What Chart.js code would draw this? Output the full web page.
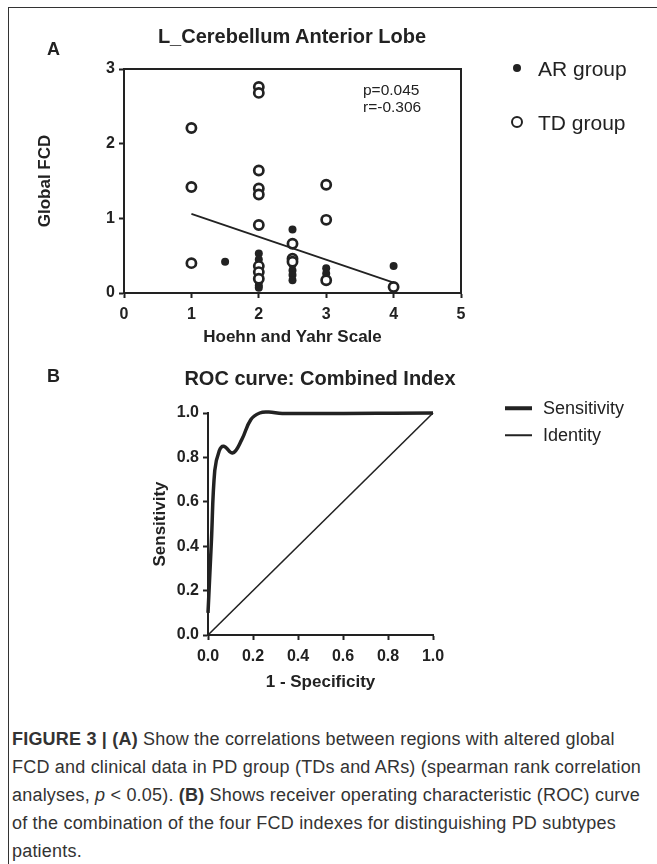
<!DOCTYPE html>
<html>
<head>
<meta charset="utf-8">
<script src="https://cdn.jsdelivr.net/npm/chart.js@4.4.1/dist/chart.umd.min.js"></script>
<style>
  body { margin: 0; background: #fff; font-family: "Liberation Sans", Arial, sans-serif; color: #222; }
  #page { position: relative; width: 657px; height: 864px; overflow: hidden; }
  #frame { position: absolute; left: 8px; top: 7px; width: 700px; height: 900px; border: 1.5px solid #333; box-sizing: border-box; }
  canvas { position: absolute; left: 0; }
  .txt { position: absolute; white-space: nowrap; line-height: 1; }
  .c { transform: translate(-50%, -50%); }
  .l { transform: translateY(-50%); }
  .bold { font-weight: bold; }
  .dot { position: absolute; border-radius: 50%; transform: translate(-50%, -50%); box-sizing: border-box; }
  .seg { position: absolute; background: #222; transform: translateY(-50%); }
  #caption { position: absolute; left: 12px; top: 725px; font-size: 18px; letter-spacing: 0.2px; line-height: 28px; color: #333; white-space: nowrap; }
</style>
</head>
<body>
<div id="page">
  <div id="frame"></div>
  <canvas id="chartA" width="657" height="360" style="top:0"></canvas>
  <canvas id="chartB" width="657" height="340" style="top:360px"></canvas>

  <div class="txt bold l" style="left:47px; top:49px; font-size:18px;">A</div>
  <div class="txt bold c" style="left:292px; top:36px; font-size:20px;">L_Cerebellum Anterior Lobe</div>
  <div class="txt" style="left:363px; top:82px; font-size:15.5px; line-height:16.5px;">p=0.045<br>r=-0.306</div>
  <div class="dot" style="left:517px; top:68px; width:8px; height:8px; background:#222;"></div>
  <div class="txt l" style="left:538px; top:68px; font-size:21px;">AR group</div>
  <div class="dot" style="left:517px; top:122px; width:12px; height:12px; border:2.7px solid #222; background:#fff;"></div>
  <div class="txt l" style="left:538px; top:122px; font-size:21px;">TD group</div>

  <div class="txt bold l" style="left:47px; top:376px; font-size:18px;">B</div>
  <div class="txt bold c" style="left:320px; top:378px; font-size:20px;">ROC curve: Combined Index</div>
  <div class="seg" style="left:505px; top:408px; width:27px; height:3.5px;"></div>
  <div class="txt l" style="left:543px; top:408px; font-size:18px;">Sensitivity</div>
  <div class="seg" style="left:505px; top:435px; width:27px; height:1.5px;"></div>
  <div class="txt l" style="left:543px; top:435px; font-size:18px;">Identity</div>

  <div id="caption"><b>FIGURE 3 | (A)</b> Show the correlations between regions with altered global<br>FCD and clinical data in PD group (TDs and ARs) (spearman rank correlation<br>analyses, <i>p</i> &lt; 0.05). <b>(B)</b> Shows receiver operating characteristic (ROC) curve<br>of the combination of the four FCD indexes for distinguishing PD subtypes<br>patients.</div>
</div>

<script>
// Panel A: Hoehn and Yahr scale vs global FCD (L_Cerebellum Anterior Lobe)
const arHY  = [1.5, 2, 2, 2, 2, 2, 2, 2, 2, 2.5, 2.5, 2.5, 2.5, 2.5, 3, 3, 4];
const arFCD = [0.42, 0.53, 0.45, 0.38, 0.30, 0.22, 0.15, 0.10, 0.07, 0.85, 0.38, 0.30, 0.24, 0.17, 0.33, 0.26, 0.36];
const tdHY  = [1, 1, 1, 2, 2, 2, 2, 2, 2, 2, 2, 2, 2.5, 2.5, 2.5, 3, 3, 3, 4];
const tdFCD = [2.21, 1.42, 0.40, 2.76, 2.68, 1.64, 1.40, 1.32, 0.91, 0.36, 0.28, 0.19, 0.66, 0.46, 0.42, 1.45, 0.98, 0.17, 0.08];
const fitHY  = [1, 4];
const fitFCD = [1.06, 0.14];

// Panel B: ROC curve of the combined index
const rocFPR = [0, 0.015, 0.03, 0.05, 0.07, 0.11, 0.15, 0.19, 0.23, 0.27, 0.33, 1.0];
const rocTPR = [0.10, 0.42, 0.74, 0.83, 0.85, 0.82, 0.88, 0.97, 1.0, 1.004, 0.998, 1.0];
const identityX = [0, 1];
const identityY = [0, 1];

const ink = '#222';
Chart.defaults.font.family = '"Liberation Sans", Arial, sans-serif';
Chart.defaults.color = ink;

const toPoints = (xs, ys) => xs.map((x, i) => ({x: x, y: ys[i]}));

// box round the plot area of panel A
const boxPlugin = {
    id: 'box',
    afterDatasetsDraw(chart, args, opts) {
        if (!opts.enabled) return;
        const a = chart.chartArea;
        const ctx = chart.ctx;
        ctx.save();
        ctx.strokeStyle = ink;
        ctx.lineWidth = 2;
        ctx.strokeRect(a.left, a.top, a.right - a.left, a.bottom - a.top);
        ctx.restore();
    }
};

function axis(min, max, step, titleText, pos, fit, fmt) {
    return {
        type: 'linear',
        position: pos,
        min: min,
        max: max,
        afterFit: fit,
        ticks: {
            stepSize: step,
            padding: pos == 'bottom' ? 7 : 4,
            font: {size: 16, weight: 'bold'},
            color: ink,
            callback: fmt
        },
        grid: {display: true, drawOnChartArea: false, drawTicks: true, tickLength: 5, tickWidth: 2, tickColor: ink},
        border: {display: true, color: ink, width: 2},
        title: {display: true, text: titleText, color: ink, font: {size: 17, weight: 'bold'}, padding: {top: 10, bottom: 0}}
    };
}

new Chart(document.getElementById('chartA').getContext('2d'), {
    type: 'scatter',
    data: {
        datasets: [
            {
                label: 'fit',
                data: toPoints(fitHY, fitFCD),
                showLine: true,
                borderColor: ink,
                borderWidth: 1.8,
                pointRadius: 0,
                clip: false
            },
            {
                label: 'TD group',
                data: toPoints(tdHY, tdFCD),
                pointRadius: 4.6,
                pointBorderWidth: 2.7,
                pointBorderColor: ink,
                pointBackgroundColor: '#fff',
                clip: false
            },
            {
                label: 'AR group',
                data: toPoints(arHY, arFCD),
                pointRadius: 4,
                pointBorderWidth: 0,
                pointBackgroundColor: ink,
                clip: false
            }
        ]
    },
    options: {
        responsive: false,
        animation: false,
        layout: {padding: {left: 25, right: 196, top: 69, bottom: 12}},
        plugins: {legend: {display: false}, tooltip: {enabled: false}, box: {enabled: true}},
        scales: {
            x: axis(0, 5, 1, 'Hoehn and Yahr Scale', 'bottom', s => { s.height = 55; }),
            y: axis(0, 3, 1, 'Global FCD', 'left', s => { s.width = 99; })
        }
    },
    plugins: [boxPlugin]
});

new Chart(document.getElementById('chartB').getContext('2d'), {
    type: 'scatter',
    data: {
        datasets: [
            {
                label: 'Sensitivity',
                data: toPoints(rocFPR, rocTPR),
                showLine: true,
                tension: 0.4,
                borderColor: ink,
                borderWidth: 3.5,
                pointRadius: 0,
                clip: false
            },
            {
                label: 'Identity',
                data: toPoints(identityX, identityY),
                showLine: true,
                borderColor: ink,
                borderWidth: 1.6,
                pointRadius: 0,
                clip: false
            }
        ]
    },
    options: {
        responsive: false,
        animation: false,
        layout: {padding: {left: 140, right: 224, top: 53, bottom: 7}},
        plugins: {legend: {display: false}, tooltip: {enabled: false}},
        scales: {
            x: axis(0, 1, 0.2, '1 - Specificity', 'bottom', s => { s.height = 58; }, v => v.toFixed(1)),
            y: axis(0, 1, 0.2, 'Sensitivity', 'left', s => { s.width = 68; }, v => v.toFixed(1))
        }
    }
});
</script>
</body>
</html>
